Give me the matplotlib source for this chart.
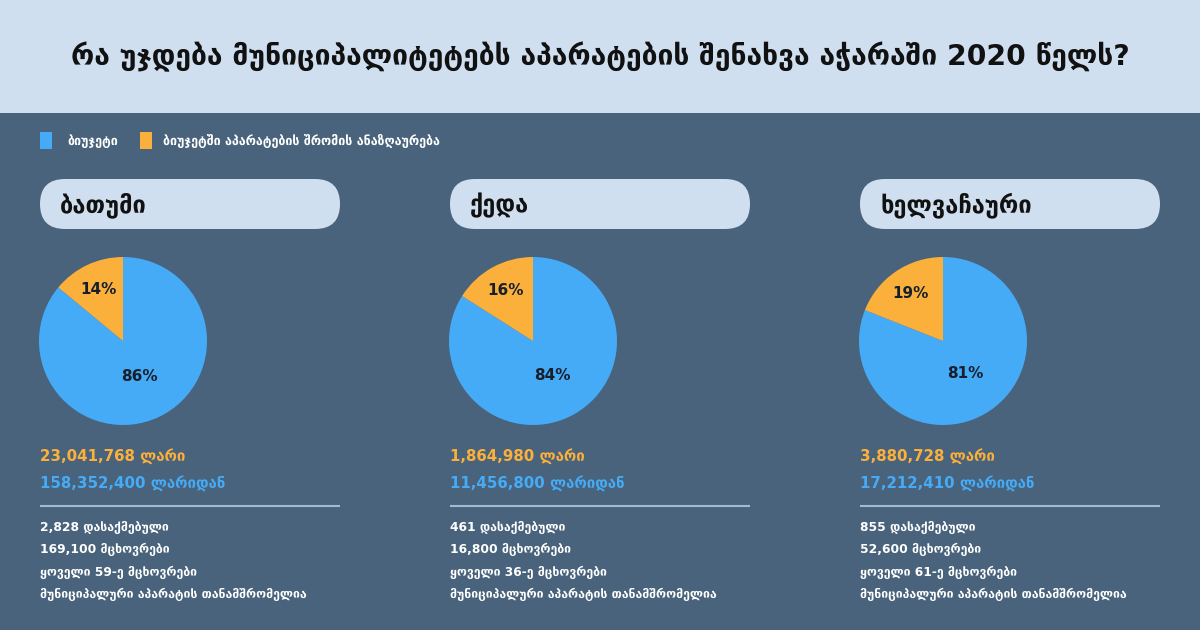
import matplotlib
matplotlib.use('Agg')
import matplotlib.pyplot as plt
from matplotlib.patches import Rectangle, FancyBboxPatch
import numpy as np

plt.rcParams['font.family'] = ['DejaVu Sans']

# ---------------- data ----------------
title = "რა უჯდება მუნიციპალიტეტებს აპარატების შენახვა აჭარაში 2020 წელს?"
legend_labels = ["ბიუჯეტი", "ბიუჯეტში აპარატების შრომის ანაზღაურება"]
municipalities = ["ბათუმი", "ქედა", "ხელვაჩაური"]
budget_pct = [86, 84, 81]
salary_pct = [14, 16, 19]
salary_amounts = ["23,041,768", "1,864,980", "3,880,728"]
budget_amounts = ["158,352,400", "11,456,800", "17,212,410"]
employees = ["2,828", "461", "855"]
population = ["169,100", "16,800", "52,600"]
every_nth = ["59", "36", "61"]

# ---------------- style ----------------
HEADER = "#CFDFEF"
BODY = "#48637B"
BLUE = "#46ABF6"
ORANGE = "#FCB03C"
DARK = "#16202C"
LINE = "#A6BACD"

W, H = 1200, 630
fig = plt.figure(figsize=(12, 6.3), dpi=100)
fig.patch.set_facecolor(BODY)
ax = fig.add_axes([0, 0, 1, 1])
ax.set_xlim(0, W)
ax.set_ylim(H, 0)
ax.axis('off')

# header band
ax.add_patch(Rectangle((0, 0), W, 113, facecolor=HEADER, edgecolor='none'))
ax.text(W / 2, 57, title, ha='center', va='center', fontsize=20.3,
        fontweight='bold', color='#111111')

# legend
ax.add_patch(Rectangle((40, 132), 12, 17, facecolor=BLUE, edgecolor='none'))
ax.text(67, 141, legend_labels[0], ha='left', va='center', fontsize=9,
        fontweight='bold', color='white')
ax.add_patch(Rectangle((140, 132), 12, 17, facecolor=ORANGE, edgecolor='none'))
ax.text(163, 141, legend_labels[1], ha='left', va='center', fontsize=9,
        fontweight='bold', color='white')

panel_x = [40, 450, 860]
for i, name in enumerate(municipalities):
    x0 = panel_x[i]
    # pill header
    ax.add_patch(FancyBboxPatch((x0, 179), 300, 50,
                                boxstyle="round,pad=0,rounding_size=25",
                                facecolor=HEADER, edgecolor='none'))
    ax.text(x0 + 20, 205, name, ha='left', va='center', fontsize=17,
            fontweight='bold', color='#111111')

    # pie
    cx, cy, r = x0 + 83, 341, 84
    pax = fig.add_axes([(cx - r) / W, (H - cy - r) / H, 2 * r / W, 2 * r / H])
    vals = [budget_pct[i], salary_pct[i]]
    pax.pie(vals, colors=[BLUE, ORANGE], startangle=90, counterclock=False,
            radius=1, wedgeprops=dict(linewidth=0))
    pax.set_xlim(-1, 1)
    pax.set_ylim(-1, 1)
    pax.set_aspect('equal')
    pax.axis('off')
    total = sum(vals)
    # label positions at mid angles
    a_blue = np.deg2rad(90 - 360 * vals[0] / total / 2)
    a_or = np.deg2rad(90 + 360 * vals[1] / total / 2)
    pax.text(0.47 * np.cos(a_blue), 0.47 * np.sin(a_blue), f"{vals[0]}%",
             ha='center', va='center', fontsize=11, fontweight='bold', color=DARK)
    pax.text(0.68 * np.cos(a_or), 0.68 * np.sin(a_or), f"{vals[1]}%",
             ha='center', va='center', fontsize=11, fontweight='bold', color=DARK)

    # amounts
    ax.text(x0, 456, f"{salary_amounts[i]} ლარი", ha='left', va='center',
            fontsize=10.8, color=ORANGE, fontweight='bold')
    ax.text(x0, 483, f"{budget_amounts[i]} ლარიდან", ha='left', va='center',
            fontsize=10.8, color=BLUE, fontweight='bold')
    ax.plot([x0, x0 + 300], [506, 506], color=LINE, linewidth=1.5,
            solid_capstyle='butt')

    lines = [f"{employees[i]} დასაქმებული",
             f"{population[i]} მცხოვრები",
             f"ყოველი {every_nth[i]}-ე მცხოვრები",
             "მუნიციპალური აპარატის თანამშრომელია"]
    for j, t in enumerate(lines):
        ax.text(x0, 527 + j * 22.6, t, ha='left', va='center', fontsize=8.8,
                fontweight='bold', color='white')

fig.savefig("out.png", dpi=100, facecolor=BODY)
